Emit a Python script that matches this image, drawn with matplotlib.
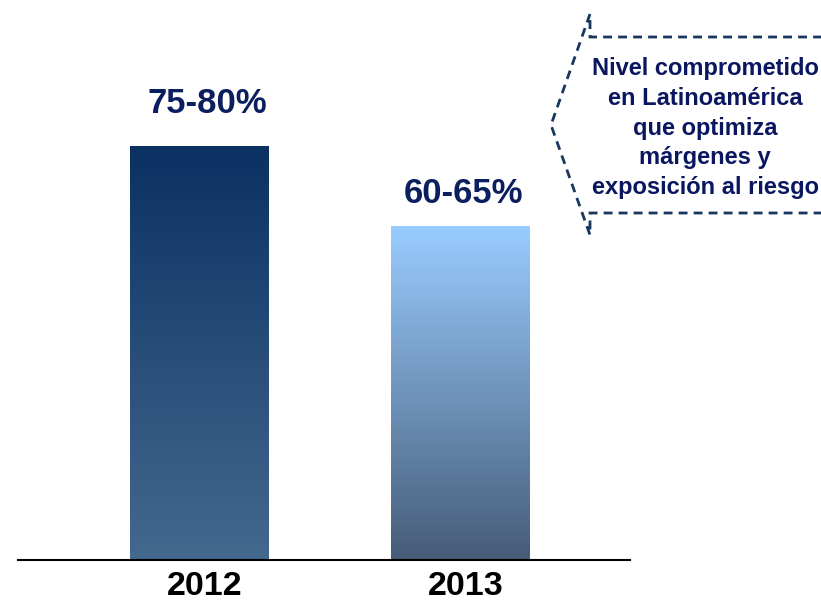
import numpy as np
import matplotlib
matplotlib.use("Agg")
import matplotlib.pyplot as plt
from matplotlib.colors import to_rgb
from matplotlib.patches import PathPatch
from matplotlib.path import Path

plt.rcParams["font.family"] = ["Liberation Sans", "DejaVu Sans"]

years = ["2012", "2013"]
values = [77.5, 62.5]            # midpoint of each range
labels = ["75-80%", "60-65%"]
callout = "Nivel comprometido\nen Latinoamérica\nque optimiza\nmárgenes y\nexposición al riesgo"

# gradient (top, bottom) for each bar
grads = [("#0b3163", "#44698f"), ("#99ccff", "#465c78")]
label_off = [(8, 26), (3, 16)]   # px offset from bar top centre

W, H = 821, 602
fig = plt.figure(figsize=(W / 100, H / 100), dpi=100)
ax = fig.add_axes([18 / W, (H - 560) / H, (630 - 18) / W, (560 - 26) / H])

x = np.arange(len(years))
w = 0.53
bars = ax.bar(x, values, w, facecolor="none", edgecolor="none")

for rect, (ctop, cbot) in zip(bars, grads):
    t = np.linspace(0, 1, 256)[:, None]
    c0, c1 = np.array(to_rgb(ctop)), np.array(to_rgb(cbot))
    img = (c0 * (1 - t) + c1 * t)[:, None, :]
    x0, y0 = rect.get_x(), rect.get_y()
    im = ax.imshow(img, extent=[x0, x0 + rect.get_width(), y0, y0 + rect.get_height()],
                   aspect="auto", origin="upper", zorder=2)
    im.set_clip_path(rect)

for rect, lab, (dx, dy) in zip(bars, labels, label_off):
    ax.annotate(lab, xy=(rect.get_x() + rect.get_width() / 2, rect.get_height()),
                xytext=(dx * 0.72, dy * 0.72), textcoords="offset points",
                ha="center", va="bottom", fontsize=25, fontweight="bold", color="#0b1f5e")

ax.set_xlim(-0.693, 1.651)
ax.set_ylim(0, 100)
ax.set_xticks(x + 0.023)         # year labels sit slightly right of bar centres
ax.set_xticklabels(years, fontsize=24.5, fontweight="bold")
ax.tick_params(length=0, pad=8)
for s in ["top", "right", "left"]:
    ax.spines[s].set_visible(False)
ax.spines["bottom"].set_linewidth(1.5)
ax.set_yticks([])

# dashed left-pointing callout
pts = [(825, 37), (590, 37), (590, 14), (551, 125), (590, 235), (590, 213), (825, 213)]
verts = [(px / W, 1 - py / H) for px, py in pts]
path = Path(verts, [Path.MOVETO] + [Path.LINETO] * (len(verts) - 1))
fig.patches.append(PathPatch(path, transform=fig.transFigure, fill=False,
                             edgecolor="#17375e", lw=2.0, ls=(0, (3.2, 2.2))))
fig.text(705 / W, 1 - 128 / H, callout, ha="center", va="center", fontsize=17,
         fontweight="bold", color="#0a1660", linespacing=1.38)

fig.savefig("out.png", dpi=100)
